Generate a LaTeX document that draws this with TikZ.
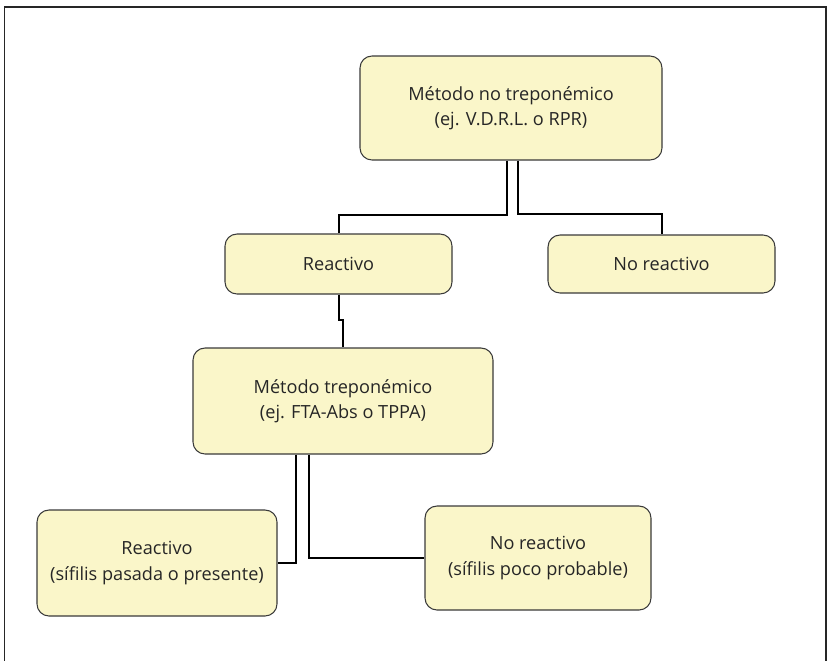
\documentclass[tikz,border=0pt]{standalone}
\usepackage{fontspec}
\setmainfont{Open Sans}
\usetikzlibrary{calc}
\definecolor{boxfill}{HTML}{FAF6C9}
\definecolor{boxdraw}{HTML}{3A3A3A}
\definecolor{txt}{HTML}{262626}
\tikzset{
  flowbox/.style={draw=boxdraw, line width=0.8pt, fill=boxfill, rounded corners=9pt,
    align=center, text=txt, font=\fontsize{13.6}{19}\selectfont, inner sep=0pt},
  link/.style={draw=black, line width=1.5pt},
}
\begin{document}
\begin{tikzpicture}[x=0.75pt, y=-0.75pt]
\useasboundingbox (0,0) rectangle (829,661);
\draw[line width=0.9pt, draw=black!85] (4.5,670) -- (4.5,7) -- (826,7) -- (826,670);
\node[flowbox, minimum width=226.5pt, minimum height=78pt] (top) at (511,108) {Método no treponémico\\(ej. V.D.R.L. o RPR)};
\node[flowbox, minimum width=170.25pt, minimum height=45pt] (r1) at (338.5,264) {Reactivo};
\node[flowbox, minimum width=170.25pt, minimum height=43.5pt] (n1) at (661.5,264) {No reactivo};
\node[flowbox, minimum width=225pt, minimum height=79.5pt] (mt) at (343,401) {Método treponémico\\(ej. FTA-Abs o TPPA)};
\node[flowbox, minimum width=180pt, minimum height=79.5pt] (bl) at (157,563) {Reactivo\\(sífilis pasada o presente)};
\node[flowbox, minimum width=169.5pt, minimum height=78pt] (br) at (538,558) {No reactivo\\(sífilis poco probable)};
\draw[link] ([xshift=-3pt]top.south) -- ++(0,54) -| (r1.north);
\draw[link] ([xshift=5.25pt]top.south) -- ++(0,53) -| (n1.north);
\draw[link] (r1.south) -- ++(0,25) -| (mt.north);
\draw[link] ([xshift=-35.25pt]mt.south) |- (bl.east);
\draw[link] ([xshift=-25.5pt]mt.south) |- (br.west);
\end{tikzpicture}
\end{document}
